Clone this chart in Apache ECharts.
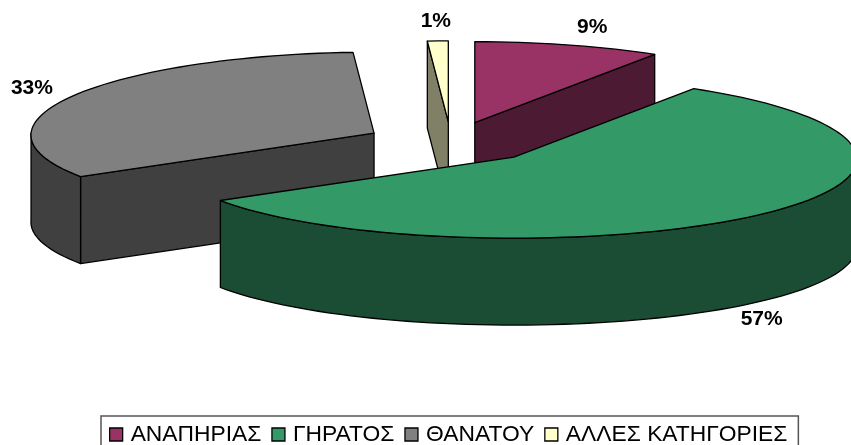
<!DOCTYPE html>
<html lang="el">
<head>
  <meta charset="UTF-8">
  <script src="https://cdn.jsdelivr.net/npm/echarts/dist/echarts.min.js"></script>
  <title>Pie 3D</title>
  <style>
    html, body { margin: 0; padding: 0; background: #fff; overflow: hidden; }
    #chart { width: 851px; height: 445px; }
  </style>
</head>
<body>
  <div id="chart"></div>
  <script>
    // Data
    const categories = ['ΑΝΑΠΗΡΙΑΣ', 'ΓΗΡΑΤΟΣ', 'ΘΑΝΑΤΟΥ', 'ΑΛΛΕΣ ΚΑΤΗΓΟΡΙΕΣ'];
    const values = [9, 57, 33, 1];

    const topColors = ['#993366', '#339966', '#808080', '#ffffcc'];
    const sideColors = ['#4d1a33', '#1a4d33', '#404040', '#808066'];

    // Paint order, back to front
    const paintOrder = [0, 3, 2, 1];

    // Pie geometry
    const cx = 451, cy = 142.5, rx = 343, ry = 81, depth = 87, explode = 0.2547;
    const perspective = 0.025;
    const labelOffsets = [[24, -18], [1, 105], [-40, -8], [-2, -20]];

    const total = values.reduce((a, b) => a + b, 0);
    const rad = deg => deg * Math.PI / 180;

    // angle is clockwise from 12 o'clock, the far side of the pie is a bit narrower
    const rim = (c, deg, k) => [
      c[0] + rx * k * Math.sin(rad(deg)) * (1 - perspective * Math.cos(rad(deg))),
      c[1] - ry * k * Math.cos(rad(deg))
    ];
    const down = p => [p[0], p[1] + depth];

    function arcPoints(c, from, to) {
      const pts = [];
      const n = Math.max(2, Math.ceil((to - from) / 2));
      for (let i = 0; i <= n; i++) pts.push(rim(c, from + (to - from) * i / n, 1));
      return pts;
    }

    const outline = { stroke: '#000', lineWidth: 1.3, lineJoin: 'round' };

    function renderSlice(idx, value) {
      const before = values.slice(0, idx).reduce((a, b) => a + b, 0);
      const a0 = before / total * 360;
      const a1 = (before + value) / total * 360;
      const mid = (a0 + a1) / 2;
      const c = rim([cx, cy], mid, explode);
      const children = [];
      const side = Object.assign({ fill: sideColors[idx] }, outline);
      const midRim = rim(c, mid, 1);

      // cut faces, only those turned to the viewer
      [a0, a1].forEach(a => {
        const p = rim(c, a, 1);
        if (Math.abs(p[0] - c[0]) < 0.5) return;
        const lineY = c[1] + (p[1] - c[1]) * (midRim[0] - c[0]) / (p[0] - c[0]);
        if (midRim[1] < lineY) {
          children.push({ type: 'polygon', shape: { points: [c, p, down(p), down(c)] }, style: side });
        }
      });

      // outer wall, front half of the rim only
      const w0 = Math.max(a0, 90), w1 = Math.min(a1, 270);
      if (w1 > w0) {
        const arc = arcPoints(c, w0, w1);
        const pts = arc.concat(arc.map(down).reverse());
        children.push({ type: 'polygon', shape: { points: pts }, style: side });
      }

      // top surface
      children.push({
        type: 'polygon',
        shape: { points: [c].concat(arcPoints(c, a0, a1)) },
        style: Object.assign({ fill: topColors[idx] }, outline)
      });

      children.push({
        type: 'text',
        style: {
          text: value + '%',
          x: midRim[0] + labelOffsets[idx][0],
          y: midRim[1] + labelOffsets[idx][1],
          textAlign: 'center',
          textVerticalAlign: 'middle',
          font: 'bold 21px "Liberation Sans", Arial, sans-serif',
          fill: '#000'
        }
      });
      return { type: 'group', children: children };
    }

    const chart = echarts.init(document.getElementById('chart'), null, { renderer: 'canvas' });

    chart.setOption({
      animation: false,
      backgroundColor: '#fff',
      legend: {
        left: 101,
        top: 416,
        itemWidth: 13,
        itemHeight: 13,
        itemGap: 10,
        padding: [7, 11, 14, 8],
        borderColor: '#555',
        borderWidth: 1.5,
        backgroundColor: '#fff',
        selectedMode: false,
        textStyle: {
          fontFamily: '"Liberation Sans", Arial, sans-serif',
          fontSize: 22.8,
          color: '#000',
          padding: [0, 0, 0, 3]
        },
        data: categories.map((name, i) => ({
          name: name,
          icon: 'rect',
          itemStyle: { color: topColors[i], borderColor: '#000', borderWidth: 1.3 }
        }))
      },
      series: categories.map((name, i) => ({
        type: 'custom',
        name: name,
        coordinateSystem: 'none',
        z: 2 + paintOrder.indexOf(i),
        itemStyle: { color: topColors[i] },
        renderItem: (params, api) => renderSlice(i, api.value(0)),
        data: [[values[i]]],
        silent: true
      }))
    });
  </script>
</body>
</html>
